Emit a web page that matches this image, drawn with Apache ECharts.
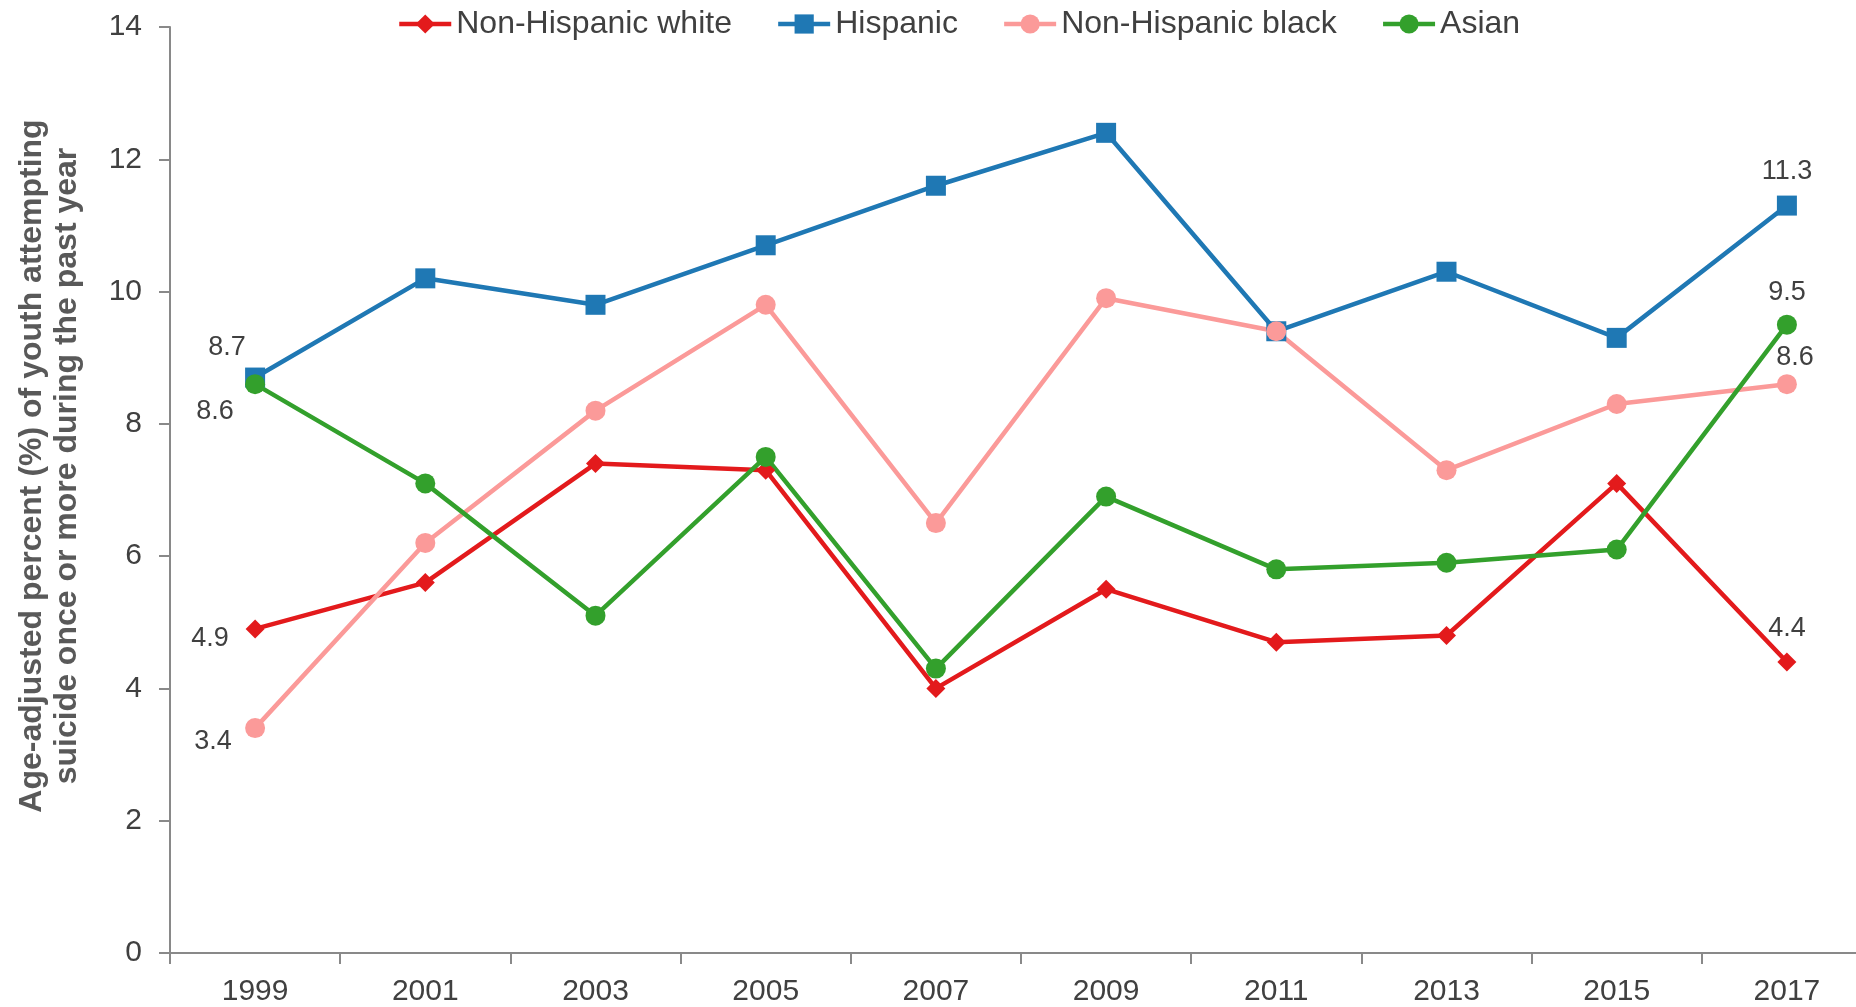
<!DOCTYPE html>
<html>
<head>
<meta charset="utf-8">
<script src="https://cdn.jsdelivr.net/npm/echarts@6/dist/echarts.min.js"></script>
<style>
html,body{margin:0;padding:0;background:#fff;}
#chart{width:1856px;height:1007px;}
</style>
</head>
<body>
<div id="chart"></div>
<script>
const years = ['1999','2001','2003','2005','2007','2009','2011','2013','2015','2017'];
const nhWhite = [4.9, 5.6, 7.4, 7.3, 4.0, 5.5, 4.7, 4.8, 7.1, 4.4];
const hispanic = [8.7, 10.2, 9.8, 10.7, 11.6, 12.4, 9.4, 10.3, 9.3, 11.3];
const nhBlack = [3.4, 6.2, 8.2, 9.8, 6.5, 9.9, 9.4, 7.3, 8.3, 8.6];
const asian = [8.6, 7.1, 5.1, 7.5, 4.3, 6.9, 5.8, 5.9, 6.1, 9.5];
const yTicks = [0, 2, 4, 6, 8, 10, 12, 14];

const FONT = '"Liberation Sans", Arial, sans-serif';
const TXT = '#404040';

function withLabels(values, firstOffset, lastOffset) {
  return values.map((v, i) => {
    if (i === 0 || i === values.length - 1) {
      return {
        value: v,
        label: {
          show: true,
          position: 'inside',
          offset: i === 0 ? firstOffset : lastOffset,
          formatter: v.toFixed(1),
          fontSize: 27,
          fontFamily: FONT,
          color: TXT
        }
      };
    }
    return v;
  });
}

function mkSeries(name, values, color, symbol, size, o1, o2) {
  return {
    name: name,
    type: 'line',
    data: withLabels(values, o1, o2),
    symbol: symbol,
    symbolSize: size,
    showAllSymbol: true,
    lineStyle: { color: color, width: 4.5 },
    itemStyle: { color: color },
    emphasis: { disabled: true },
    animation: false
  };
}

const chart = echarts.init(document.getElementById('chart'));
chart.setOption({
  backgroundColor: '#fff',
  animation: false,
  legend: {
    top: 3,
    left: 392,
    itemWidth: 52,
    itemHeight: 24,
    itemGap: 44,
    lineStyle: { width: 4.5 },
    textStyle: { fontSize: 32, fontFamily: FONT, color: TXT },
    data: ['Non-Hispanic white', 'Hispanic', 'Non-Hispanic black', 'Asian']
  },
  grid: { left: 170, top: 27, width: 1702, height: 926, containLabel: false, outerBoundsMode: 'none' },
  xAxis: {
    type: 'category',
    data: years,
    boundaryGap: true,
    axisLine: { lineStyle: { color: '#898989', width: 2 } },
    axisTick: { show: true, length: 11, lineStyle: { color: '#898989', width: 2 } },
    axisLabel: { fontSize: 30, fontFamily: FONT, color: TXT, margin: 24 }
  },
  yAxis: {
    type: 'value',
    min: 0,
    max: 14,
    interval: 2,
    axisLine: { show: true, lineStyle: { color: '#898989', width: 2 } },
    axisTick: { show: true, length: 11, lineStyle: { color: '#898989', width: 2 } },
    splitLine: { show: false },
    axisLabel: {
      fontSize: 30, fontFamily: FONT, color: TXT, margin: 28,
      formatter: v => (yTicks.indexOf(v) >= 0 ? String(v) : '')
    },
    name: 'Age-adjusted percent (%) of youth attempting\nsuicide once or more during the past year',
    nameLocation: 'middle',
    nameGap: 85,
    nameRotate: 90,
    nameTextStyle: {
      fontSize: 32, fontWeight: 'bold', fontFamily: FONT, color: '#595959',
      lineHeight: 35, align: 'center', padding: [0, 0, 0, 48]
    }
  },
  series: [
    mkSeries('Non-Hispanic white', nhWhite, '#e31a1c', 'diamond', 19, [-45, 10], [0, -33]),
    mkSeries('Hispanic', hispanic, '#1f78b4', 'rect', 20, [-28, -30], [0, -34]),
    mkSeries('Non-Hispanic black', nhBlack, '#fb9a99', 'circle', 20, [-42, 13], [8, -27]),
    mkSeries('Asian', asian, '#33a02c', 'circle', 20, [-40, 27], [0, -32])
  ]
});
</script>
</body>
</html>
